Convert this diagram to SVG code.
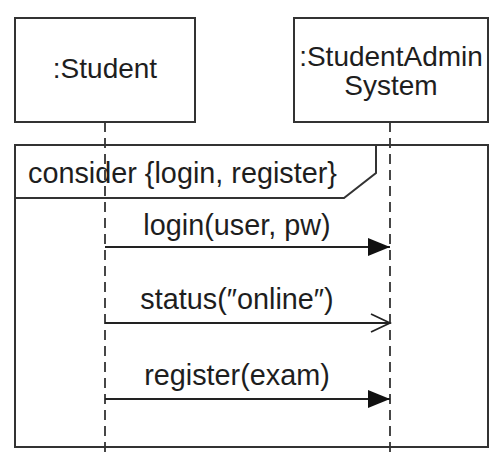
<svg xmlns="http://www.w3.org/2000/svg" width="497" height="459" viewBox="0 0 497 459">
<style>
.box{fill:#fff;stroke:#333;stroke-width:2}
.life{stroke:#333;stroke-width:1.8;stroke-dasharray:10 6;fill:none}
.msg{stroke:#222;stroke-width:1.8;fill:none}
text{font-family:"Liberation Sans",Arial,sans-serif;font-size:28px;fill:#1e1e1e}
.c{text-anchor:middle}
.m{font-size:28.8px}
</style>
<defs>
<marker id="filled" viewBox="0 0 22 18" refX="22" refY="9" markerWidth="22" markerHeight="18" markerUnits="userSpaceOnUse" orient="auto">
<path d="M0,0 L22,9 L0,18 Z" fill="#111"/>
</marker>
<marker id="open" viewBox="0 0 22 20" refX="20" refY="10" markerWidth="22" markerHeight="20" markerUnits="userSpaceOnUse" orient="auto">
<path d="M1,1 L20,10 L1,19" fill="none" stroke="#222" stroke-width="1.8"/>
</marker>
</defs>
<rect width="497" height="459" fill="#fff"/>
<g id="frame">
<rect x="15" y="145" width="473" height="302" fill="none" stroke="#333" stroke-width="2"/>
<path d="M15,198 L344,198 L376,173 L376,145" fill="none" stroke="#333" stroke-width="2"/>
<text x="28" y="183" class="m">consider {login, register}</text>
</g>
<g id="lifelines">
<line class="life" x1="105" y1="122" x2="105" y2="458"/>
<line class="life" x1="390" y1="122" x2="390" y2="458"/>
</g>
<g id="student">
<rect class="box" x="15" y="18" width="180" height="104"/>
<text class="c" x="105" y="78">:Student</text>
</g>
<g id="admin">
<rect class="box" x="294" y="18" width="194" height="104"/>
<text class="c" x="391" y="66">:StudentAdmin</text>
<text class="c" x="391" y="95">System</text>
</g>
<g id="connectors">
<line class="msg" x1="105" y1="247" x2="390" y2="247" marker-end="url(#filled)"/>
<text class="c m" x="237" y="235">login(user, pw)</text>
<line class="msg" x1="105" y1="323" x2="390" y2="323" marker-end="url(#open)"/>
<text class="c m" x="237" y="309">status(″online″)</text>
<line class="msg" x1="105" y1="399" x2="390" y2="399" marker-end="url(#filled)"/>
<text class="c m" x="237" y="385">register(exam)</text>
</g>
</svg>
